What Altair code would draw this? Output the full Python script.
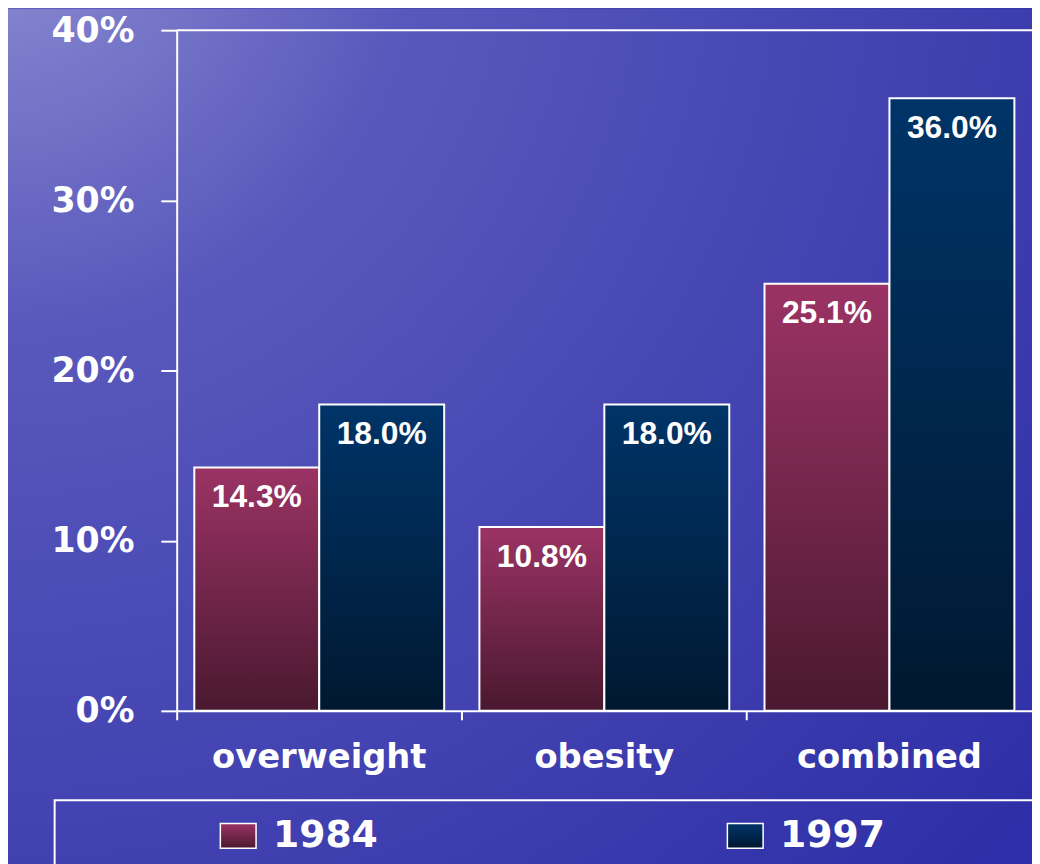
import altair as alt
import pandas as pd

categories = ["overweight", "obesity", "combined"]
years = ["1984", "1997"]
values_1984 = [14.3, 10.8, 25.1]
values_1997 = [18.0, 18.0, 36.0]
y_ticks = [0, 10, 20, 30, 40]

rows = []
for i, c in enumerate(categories):
    rows.append({"category": c, "year": "1984", "value": values_1984[i]})
    rows.append({"category": c, "year": "1997", "value": values_1997[i]})
df = pd.DataFrame(rows)

g1984 = ("{gradient:'linear',x1:0,y1:0,x2:0,y2:1,"
         "stops:[{offset:0,color:'#9b3364'},{offset:1,color:'#4a1830'}]}")
g1997 = ("{gradient:'linear',x1:0,y1:0,x2:0,y2:1,"
         "stops:[{offset:0,color:'#003468'},{offset:1,color:'#001830'}]}")

bg_grad = alt.Gradient(
    gradient="radial", x1=0, y1=0, x2=0, y2=0, r1=0, r2=1.3,
    stops=[alt.GradientStop(offset=0, color="#8c8cd2"),
           alt.GradientStop(offset=0.3, color="#5858bc"),
           alt.GradientStop(offset=0.7, color="#4040b0"),
           alt.GradientStop(offset=1, color="#2e2ea8")])

W, H = 862, 686

x_enc = alt.X("category:N", sort=categories, title=None,
              scale=alt.Scale(paddingInner=0, paddingOuter=0),
              axis=alt.Axis(bandPosition=0, labelAngle=0, labelFont="DejaVu Sans",
                            labelFontWeight="bold", labelFontSize=34, labelColor="white",
                            labelPadding=21, tickSize=9, tickColor="white", tickWidth=2,
                            domainColor="white", domainWidth=2, labelBaseline="top",
                            labelLimit=400, zindex=2))
y_enc = alt.Y("value:Q", title=None,
              scale=alt.Scale(domain=[0, 40], nice=False, zero=True),
              axis=alt.Axis(values=y_ticks, labelExpr="datum.value + '%'",
                            labelFont="DejaVu Sans", labelFontWeight="bold",
                            labelFontSize=35, labelColor="white", labelPadding=27,
                            tickSize=16, tickColor="white", tickWidth=2,
                            domainColor="white", domainWidth=2, grid=False, zindex=2))
xoff = alt.XOffset("year:N", sort=years,
                   scale=alt.Scale(paddingOuter=0.141, paddingInner=0))

background = alt.Chart(alt.Data(values=[{"k": 1}])).mark_rect(fill=bg_grad).encode(
    x=alt.value(-175), x2=alt.value(880), y=alt.value(-22), y2=alt.value(860))

legend_box = alt.Chart(alt.Data(values=[{"k": 1}])).mark_rect(
    fillOpacity=0, stroke="white", strokeWidth=2).encode(
    x=alt.value(-123), x2=alt.value(900), y=alt.value(776), y2=alt.value(900))

top_line = alt.Chart(alt.Data(values=[{"v": 40}])).mark_rule(
    color="white", strokeWidth=2).encode(y=alt.Y("v:Q", scale=alt.Scale(domain=[0, 40])))

bars = alt.Chart(df).mark_bar(stroke="white", strokeWidth=2).encode(
    x=x_enc, y=y_enc, xOffset=xoff,
    color=alt.Color("year:N", sort=years,
                    scale=alt.Scale(domain=years,
                                    range=[alt.ExprRef(expr=g1984), alt.ExprRef(expr=g1997)]),
                    legend=alt.Legend(orient="none", legendX=43, legendY=793,
                                      direction="horizontal", title=None,
                                      symbolType="M-1.44,-1H1.44V1H-1.44Z", symbolSize=625,
                                      symbolStrokeColor="white", symbolStrokeWidth=1.5,
                                      labelFont="DejaVu Sans", labelFontWeight="bold",
                                      labelFontSize=38, labelColor="white", labelOffset=16,
                                      labelLimit=400, columnPadding=349, padding=0)))

labels = alt.Chart(df).transform_calculate(
    lbl="format(datum.value, '.1f') + '%'").mark_text(
    font="Liberation Sans", fontWeight="bold", fontSize=32, color="white",
    baseline="alphabetic", dy=40).encode(
    x=alt.X("category:N", sort=categories), y=alt.Y("value:Q"),
    xOffset=alt.XOffset("year:N", sort=years), text="lbl:N")

chart = alt.layer(background, legend_box, bars, labels, top_line).properties(
    width=W, height=H,
    autosize=alt.AutoSizeParams(type="none"),
    padding={"left": 170, "top": 19, "right": 0, "bottom": 151},
    background="#3a3aab",
).configure_view(stroke=None)

chart.save("out.html", embed_options={"renderer": "svg", "actions": False})
